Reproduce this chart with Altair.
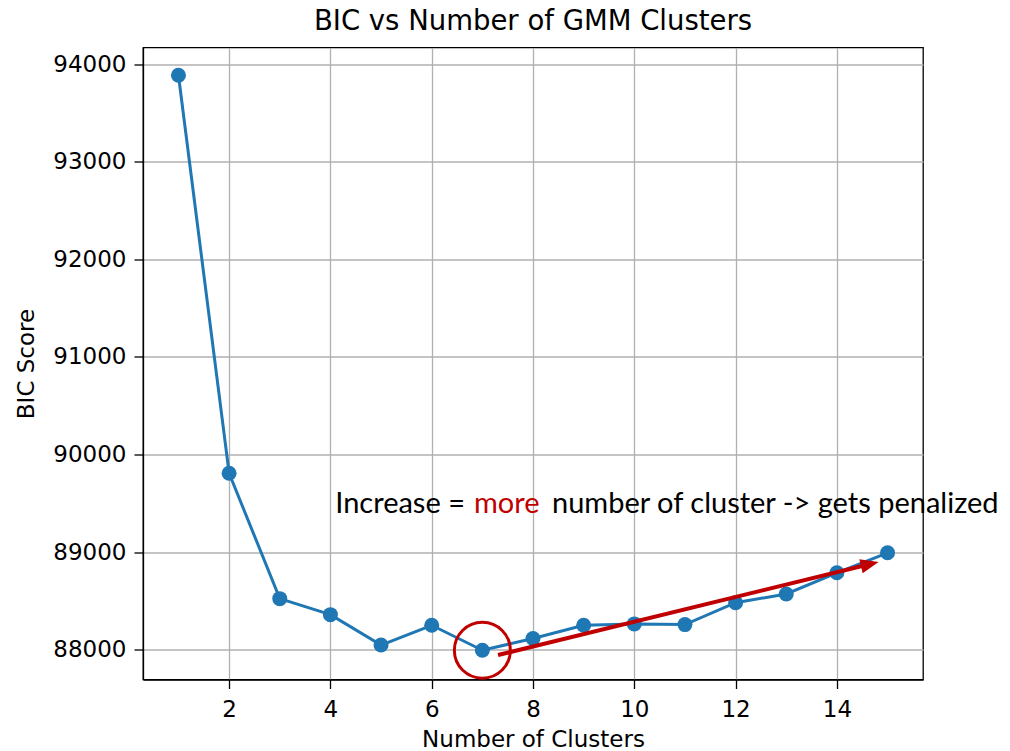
import altair as alt
import pandas as pd

# ---- data ----
clusters = list(range(1, 16))
bic = [93887, 89808, 88522, 88358, 88046, 88249, 87993, 88113,
       88249, 88263, 88256, 88480, 88570, 88787, 88992]

x_ticks = [2, 4, 6, 8, 10, 12, 14]
y_ticks = [88000, 89000, 90000, 91000, 92000, 93000, 94000]

# annotation geometry (data units)
arrow_x = [7.31, 14.64]
arrow_y = [87944, 88875]
arrow_angle = 76.3
text_parts = ["Increase =", "more", "number of cluster -> gets penalized"]
text_x = [6.657, 6.835, 8.375]
text_y = [89400, 89400, 89400]
text_align = ["right", "left", "left"]
text_color = ["black", "#C00000", "black"]

BLUE = "#1f77b4"
RED = "#C00000"

x_dom = [0.3, 15.7]
y_dom = [87693, 94172]

def X(field="x"):
    return alt.X(f"{field}:Q", scale=alt.Scale(domain=x_dom, nice=False, zero=False),
                 axis=alt.Axis(values=x_ticks, title="Number of Clusters", format="d"))

def Y(field="y"):
    return alt.Y(f"{field}:Q", scale=alt.Scale(domain=y_dom, nice=False, zero=False),
                 axis=alt.Axis(values=y_ticks, title="BIC Score", format="d"))

df = pd.DataFrame({"x": clusters, "y": bic})

line = alt.Chart(df).mark_line(color=BLUE, strokeWidth=3).encode(x=X(), y=Y())
pts = alt.Chart(df).mark_point(filled=True, color=BLUE, size=225, opacity=1).encode(x=X(), y=Y())

circ_df = pd.DataFrame({"x": [clusters[6]], "y": [bic[6]]})
circ = alt.Chart(circ_df).mark_point(shape="circle", filled=False, stroke=RED,
                                     strokeWidth=3, size=3136, opacity=1).encode(x=X(), y=Y())

arr_df = pd.DataFrame({"x": [arrow_x[0]], "x2": [arrow_x[1]], "y": [arrow_y[0]], "y2": [arrow_y[1]]})
arrow = alt.Chart(arr_df).mark_rule(color=RED, strokeWidth=4).encode(
    x=X(), y=Y(), x2="x2:Q", y2="y2:Q")

head_df = pd.DataFrame({"x": [arrow_x[1]], "y": [arrow_y[1]]})
head = alt.Chart(head_df).mark_point(shape="M0,-1L-0.75,0.9L0.75,0.9Z", filled=True, color=RED,
                                     size=361, opacity=1, angle=arrow_angle).encode(x=X(), y=Y())

texts = []
for t, tx, ty, al, col in zip(text_parts, text_x, text_y, text_align, text_color):
    tdf = pd.DataFrame({"x": [tx], "y": [ty], "t": [t]})
    texts.append(alt.Chart(tdf).mark_text(font="Lato", fontSize=29, align=al, baseline="alphabetic",
                                          color=col).encode(x=X(), y=Y(), text="t:N"))

chart = alt.layer(line, pts, circ, arrow, head, *texts).properties(
    width=780, height=632,
    title=alt.TitleParams("BIC vs Number of GMM Clusters", font="DejaVu Sans", fontSize=27.5,
                          fontWeight="normal", color="black", anchor="middle", offset=12),
    padding={"left": 135, "top": 39.5, "right": 79, "bottom": 72},
    autosize=alt.AutoSizeParams(type="none"),
).configure_view(stroke="black", strokeWidth=1.3).configure_axis(
    labelFont="DejaVu Sans", labelFontSize=23, labelColor="black",
    titleFont="DejaVu Sans", titleFontSize=23, titleFontWeight="normal", titleColor="black",
    gridColor="#b0b0b0", gridWidth=1.3, domainColor="black", domainWidth=1.3,
    tickColor="black", tickWidth=1.3, tickSize=9, labelPadding=8,
).configure_axisX(titlePadding=7, labelPadding=9.5).configure_axisY(titlePadding=14)

chart.save("out.html", embed_options={"renderer": "svg", "actions": False})
